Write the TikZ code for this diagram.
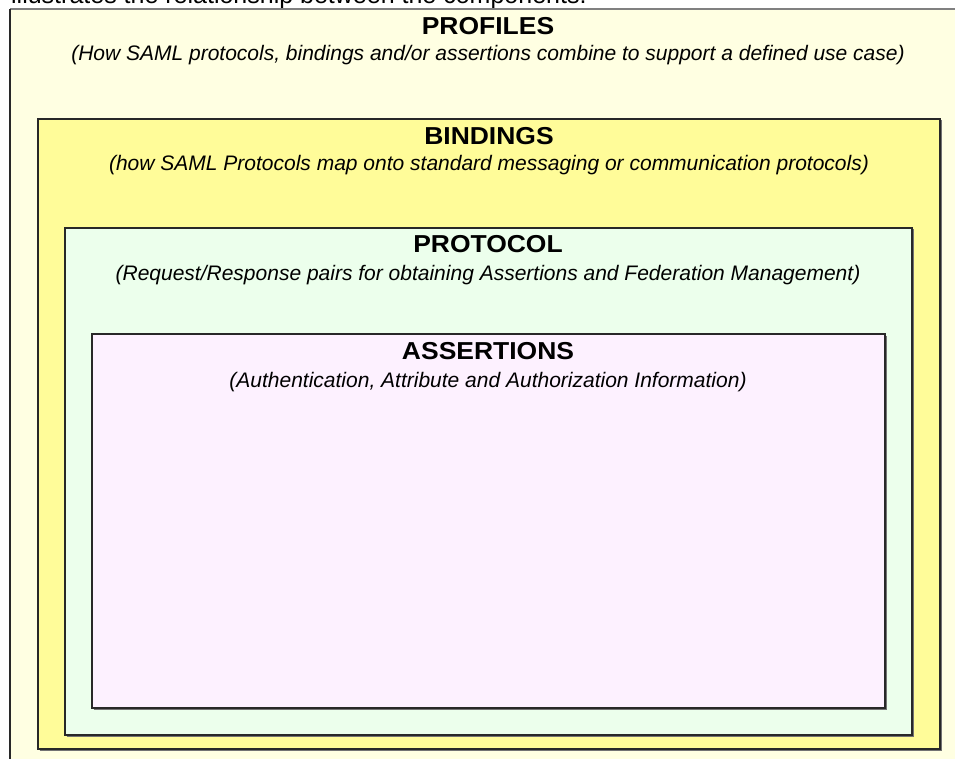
\documentclass[tikz,border=0pt]{standalone}
\usepackage{fontspec}
\setmainfont{Liberation Sans}
\definecolor{profilefill}{RGB}{255,255,226}
\definecolor{bindfill}{RGB}{255,252,153}
\definecolor{protofill}{RGB}{236,255,236}
\definecolor{assertfill}{RGB}{253,241,255}
\definecolor{edgecol}{RGB}{40,40,40}
\tikzset{
  layer/.style={draw=edgecol, line width=1.1pt},
  shadowline/.style={draw=black!55, line width=1pt},
  ttl/.style={anchor=base, inner sep=0pt, xscale=1.08, font=\fontsize{24.5}{28}\selectfont\bfseries},
  sub/.style={anchor=base, inner sep=0pt, font=\fontsize{21}{25}\selectfont\itshape},
}
\begin{document}
\begin{tikzpicture}[x=1pt,y=-1pt]
\useasboundingbox (0,0) rectangle (955,759);
\begin{scope}
\clip (0,0) rectangle (955,759);
\node[anchor=base west, inner sep=0pt, font=\fontsize{25}{29}\selectfont] (intro) at (11,4) {illustrates the relationship between the components.};
% profiles
\fill[profilefill] (10,9) rectangle (960,765);
\draw[draw=gray, line width=1.1pt] (10,9) -- (960,9);
\draw[layer] (10,765) -- (10,9);
\end{scope}
% bindings
\fill[bindfill] (38,119) rectangle (940,749);
\draw[shadowline] (39.5,750) -- (941,750) -- (941,120.5);
\draw[layer] (38,119) rectangle (940,749);
% protocol
\fill[protofill] (65,228) rectangle (912,735);
\draw[shadowline] (66.5,736) -- (913,736) -- (913,229.5);
\draw[layer] (65,228) rectangle (912,735);
% assertions
\fill[assertfill] (92,334) rectangle (885,708);
\draw[shadowline] (93.5,709) -- (886,709) -- (886,335.5);
\draw[layer] (92,334) rectangle (885,708);
% texts
\node[ttl] (profT) at (488,35) {PROFILES};
\node[sub] (profS) at (488,61) {(How SAML protocols, bindings and/or assertions combine to support a defined use case)};
\node[ttl] (bindT) at (489,145) {BINDINGS};
\node[sub] (bindS) at (489,171) {(how SAML Protocols map onto standard messaging or communication protocols)};
\node[ttl] (protT) at (488,253) {PROTOCOL};
\node[sub] (protS) at (488,280) {(Request/Response pairs for obtaining Assertions and Federation Management)};
\node[ttl] (assT) at (488,359) {ASSERTIONS};
\node[sub] (assS) at (488,387) {(Authentication, Attribute and Authorization Information)};
\end{tikzpicture}
\end{document}
